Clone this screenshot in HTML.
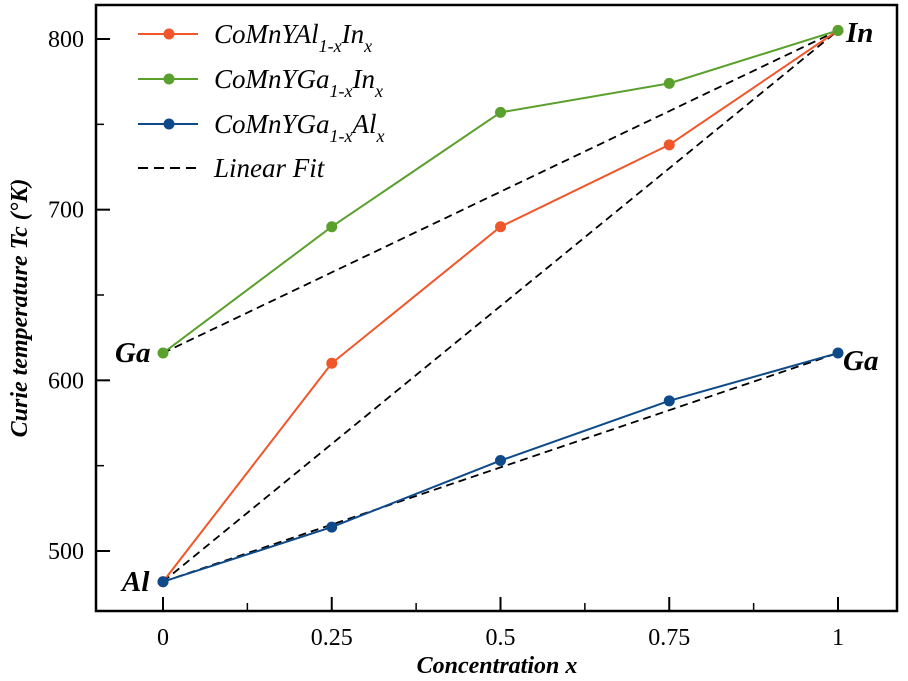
<!DOCTYPE html>
<html><head><meta charset="utf-8"><style>
html,body{margin:0;padding:0;background:#fff}
svg{display:block;font-family:"Liberation Serif",serif}
</style></head><body>
<svg id="c" width="908" height="681">
<g id="plot"></g>
<g font-weight="bold" font-style="italic" font-size="29">
<text x="115" y="362">Ga</text>
<text x="122" y="591">Al</text>
<text x="846" y="42">In</text>
<text x="843" y="370">Ga</text>
</g>
<g font-style="italic" font-size="27">
<g>
<line x1="138" y1="34" x2="198" y2="34" stroke="#f0562a" stroke-width="2"/><circle cx="169" cy="34" r="5.5" fill="#f0562a"/>
<text x="214" y="43">CoMnYAl<tspan font-size="18" dy="9">1-x</tspan><tspan dy="-9">In</tspan><tspan font-size="18" dy="9">x</tspan></text></g>
<g>
<line x1="138" y1="79" x2="198" y2="79" stroke="#5aa02c" stroke-width="2"/><circle cx="169" cy="79" r="5.5" fill="#5aa02c"/>
<text x="214" y="88">CoMnYGa<tspan font-size="18" dy="9">1-x</tspan><tspan dy="-9">In</tspan><tspan font-size="18" dy="9">x</tspan></text></g>
<g>
<line x1="138" y1="124" x2="198" y2="124" stroke="#0e4a8a" stroke-width="2"/><circle cx="169" cy="124" r="5.5" fill="#0e4a8a"/>
<text x="214" y="133">CoMnYGa<tspan font-size="18" dy="9">1-x</tspan><tspan dy="-9">Al</tspan><tspan font-size="18" dy="9">x</tspan></text></g>
<g>
<line x1="138" y1="168" x2="198" y2="168" stroke="#000" stroke-width="2" stroke-dasharray="10,6"/>
<text x="214" y="177">Linear Fit</text></g>
</g>
<text x="497" y="673" text-anchor="middle" font-size="24" font-weight="bold" font-style="italic">Concentration x</text>
<text transform="translate(27,308) rotate(-90)" text-anchor="middle" font-size="24" font-weight="bold" font-style="italic">Curie temperature Tc (°K)</text>
</svg>
<script>
const xs = [0, 0.25, 0.5, 0.75, 1];
const alIn = [482, 610, 690, 738, 805];
const gaIn = [616, 690, 757, 774, 805];
const gaAl = [482, 514, 553, 588, 616];
const xTicks = [0, 0.25, 0.5, 0.75, 1];
const xTickLabels = ["0", "0.25", "0.5", "0.75", "1"];
const yTicks = [500, 600, 700, 800];
const yMinor = [450, 550, 650, 750];
const xMinor = [-0.125, 0.125, 0.375, 0.625, 0.875, 1.125];

const L = 96, R = 897, T = 5, B = 611;
const X = v => 163 + v * (838 - 163);
const Y = v => 551 - (v - 500) * (551 - 39) / 300;
const NS = "http://www.w3.org/2000/svg";
const g = document.getElementById('plot');
function mk(tag, attrs, parent) {
  const e = document.createElementNS(NS, tag);
  for (const k in attrs) e.setAttribute(k, attrs[k]);
  (parent || g).appendChild(e);
  return e;
}
let fr = mk('rect', {x: L, y: T, width: R - L, height: B - T, fill: 'none', stroke: '#000', 'stroke-width': 2.5});


xTicks.forEach((v, i) => {
  let t = mk('line', {x1: X(v), x2: X(v), y1: B, y2: B - 14, stroke: '#000', 'stroke-width': 2});
  
  
  let tx = mk('text', {x: X(v), y: 645, 'text-anchor': 'middle', 'font-size': 24});
  tx.textContent = xTickLabels[i];
  
  
});
xMinor.forEach(v => {
  if (X(v) <= L || X(v) >= R) return;
  let t = mk('line', {x1: X(v), x2: X(v), y1: B, y2: B - 8, stroke: '#000', 'stroke-width': 1.5});
  
  
});
yTicks.forEach(v => {
  let t = mk('line', {x1: L, x2: L + 14, y1: Y(v), y2: Y(v), stroke: '#000', 'stroke-width': 2});
  
  
  let tx = mk('text', {x: 84, y: Y(v) + 8, 'text-anchor': 'end', 'font-size': 24});
  tx.textContent = v;
  
  
});
yMinor.forEach(v => {
  if (Y(v) >= B || Y(v) <= T) return;
  let t = mk('line', {x1: L, x2: L + 8, y1: Y(v), y2: Y(v), stroke: '#000', 'stroke-width': 1.5});
  
  
});
[[alIn, 'fit-al-in'], [gaIn, 'fit-ga-in'], [gaAl, 'fit-ga-al']].forEach(([s, n]) => {
  let l = mk('line', {x1: X(xs[0]), y1: Y(s[0]), x2: X(xs[xs.length - 1]), y2: Y(s[s.length - 1]), stroke: '#000', 'stroke-width': 1.8, 'stroke-dasharray': '8,5'});
  
  
});
[[alIn, '#f0562a', 'series-al-in'], [gaIn, '#5aa02c', 'series-ga-in'], [gaAl, '#0e4a8a', 'series-ga-al']].forEach(([s, c, n]) => {
  let p = mk('polyline', {points: s.map((v, i) => X(xs[i]) + ',' + Y(v)).join(' '), fill: 'none', stroke: c, 'stroke-width': 2});
  
  
  s.forEach((v, i) => {
    let m = mk('circle', {cx: X(xs[i]), cy: Y(v), r: 5.5, fill: c});
    
    
  });
});
</script>
</body></html>
